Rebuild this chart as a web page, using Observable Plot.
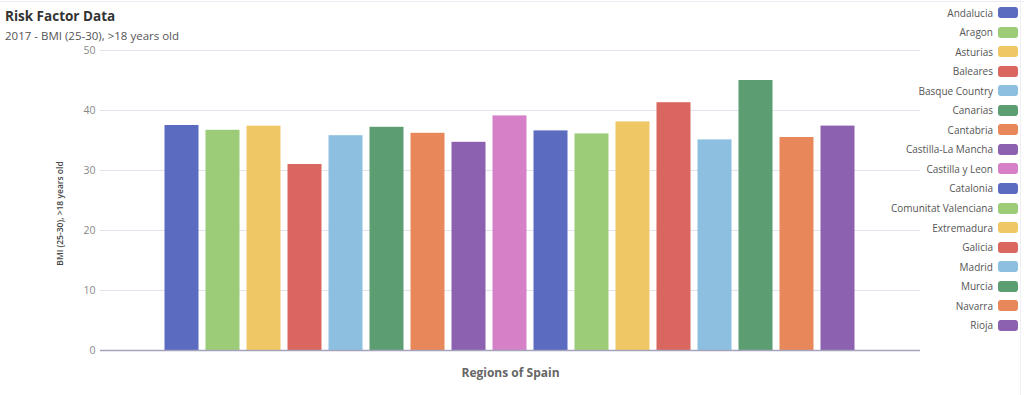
<!DOCTYPE html>
<html>
<head>
<meta charset="utf-8">
<script src="https://cdn.jsdelivr.net/npm/d3@7"></script>
<script src="https://cdn.jsdelivr.net/npm/@observablehq/plot@0.6"></script>
<style>
  html, body { margin: 0; padding: 0; background: #fff; }
  #wrap { position: relative; width: 1024px; height: 395px; overflow: hidden; font-family: "Open Sans", "Noto Sans", sans-serif; }
  #wrap svg { position: absolute; left: 0; top: 0; }
  #topline { position: absolute; left: 0; top: 1px; width: 1024px; height: 1px; background: #ececf4; }
  #rightline { position: absolute; left: 1020px; top: 0; width: 1px; height: 395px; background: #f0f0f4; }
  #title { position: absolute; left: 5px; top: 7px; font-size: 13.5px; font-weight: 700; color: #333; }
  #subtitle { position: absolute; left: 5px; top: 28px; font-size: 11.5px; color: #555; }
  #legend { position: absolute; left: 820px; top: 0; width: 200px; }
  .li { position: absolute; right: 2px; height: 14px; display: flex; align-items: center; font-size: 10px; color: #555; white-space: nowrap; }
  .sw { width: 20px; height: 11px; border-radius: 3px; margin-left: 5px; }
</style>
</head>
<body>
<div id="wrap">
  <div id="topline"></div>
  <div id="rightline"></div>
  <div id="title">Risk Factor Data</div>
  <div id="subtitle">2017 - BMI (25-30), &gt;18 years old</div>
  <div id="legend"></div>
</div>
<script>
const regions = ["Andalucia", "Aragon", "Asturias", "Baleares", "Basque Country", "Canarias", "Cantabria",
  "Castilla-La Mancha", "Castilla y Leon", "Catalonia", "Comunitat Valenciana", "Extremadura", "Galicia",
  "Madrid", "Murcia", "Navarra", "Rioja"];
const bmiValues = [37.5, 36.7, 37.4, 31.0, 35.8, 37.2, 36.2, 34.7, 39.1, 36.6, 36.1, 38.1, 41.3, 35.1, 45.0, 35.5, 37.4];
const regionColors = ["#5b6bc0", "#9dcc79", "#efc865", "#d9665f", "#8cbfe0", "#5c9e72", "#e8875a", "#8c62b0", "#d680c8",
  "#5b6bc0", "#9dcc79", "#efc865", "#d9665f", "#8cbfe0", "#5c9e72", "#e8875a", "#8c62b0"];
const yTicks = [0, 10, 20, 30, 40, 50];
const yLabel = "BMI (25-30), >18 years old";
const xLabel = "Regions of Spain";

const data = regions.map((r, i) => ({region: r, value: bmiValues[i], color: regionColors[i]}));

const chart = Plot.plot({
  width: 1024,
  height: 395,
  marginLeft: 100,
  marginRight: 104,
  marginTop: 50,
  marginBottom: 45,
  style: {fontFamily: "'Open Sans', 'Noto Sans', sans-serif", background: "transparent"},
  x: {domain: regions, range: [158.5, 860.2], padding: 0, axis: null},
  y: {domain: [0, 50], ticks: yTicks},
  marks: [
    Plot.ruleY(yTicks.filter(d => d > 0), {stroke: "#e3e3f0", strokeWidth: 1}),
    Plot.axisY({ticks: yTicks, tickSize: 0, tickPadding: 5, fontSize: 10.5, color: "#888", label: null}),
    Plot.barY(data, {x: "region", y: "value", fill: "color", insetLeft: 3.5, insetRight: 3.5}),
    Plot.ruleY([0], {stroke: "#a3a3bc", strokeWidth: 1.3}),
    Plot.text([yLabel], {frameAnchor: "left", textAnchor: "middle", dx: -40, dy: 13, rotate: -90, fontSize: 8.5, fontWeight: 600, fill: "#444"}),
    Plot.text([xLabel], {frameAnchor: "bottom", dy: 26, fontSize: 12, fontWeight: 700, fill: "#666"})
  ]
});
document.getElementById("wrap").insertBefore(chart, document.getElementById("title"));

const legend = document.getElementById("legend");
regions.forEach((r, i) => {
  const row = document.createElement("div");
  row.className = "li";
  row.style.top = (5.5 + 19.55 * i) + "px";
  const t = document.createElement("span");
  t.textContent = r;
  const s = document.createElement("span");
  s.className = "sw";
  s.style.background = regionColors[i];
  row.appendChild(t);
  row.appendChild(s);
  legend.appendChild(row);
});
</script>
</body>
</html>
